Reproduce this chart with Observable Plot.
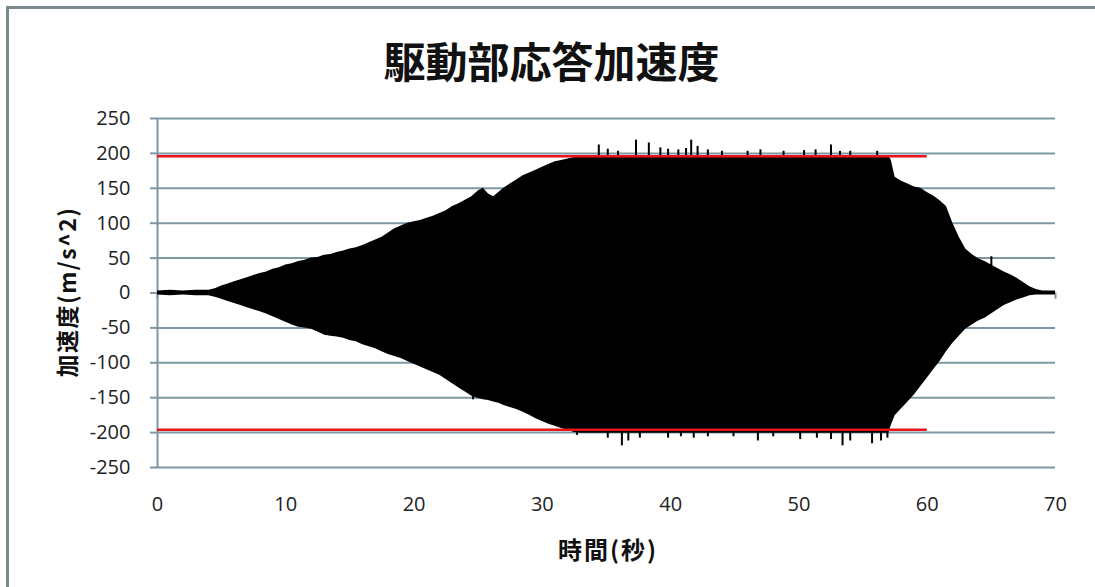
<!DOCTYPE html>
<html>
<head>
<meta charset="utf-8">
<script src="https://cdn.jsdelivr.net/npm/d3@7"></script>
<script src="https://cdn.jsdelivr.net/npm/@observablehq/plot@0.6"></script>
<style>
  html, body { margin: 0; padding: 0; background: #fff; overflow: hidden; }
  #wrap { position: relative; width: 1095px; height: 587px; }
  #frame { position: absolute; left: 6px; top: 6px; width: 1200px; height: 700px;
           border-top: 3px solid #7b898e; border-left: 3px solid #7b898e; box-sizing: border-box; }
  #title { position: absolute; left: 4px; width: 1095px; top: 38px; text-align: center;
           font-family: "Noto Sans CJK JP", sans-serif; font-weight: 700; font-size: 42px;
           line-height: 44px; color: #111; }
  #ylab { position: absolute; left: 66px; top: 292px; transform: translate(-50%, -50%) rotate(-90deg);
          white-space: nowrap; font-family: "Noto Sans CJK JP", sans-serif; font-weight: 700;
          font-size: 23px; letter-spacing: 1.5px; color: #111; }
  #xlab { position: absolute; left: 608px; top: 548px; transform: translate(-50%, -50%);
          white-space: nowrap; font-family: "Noto Sans CJK JP", sans-serif; font-weight: 700;
          font-size: 24px; letter-spacing: 2px; color: #111; }
  #chart { position: absolute; left: 0; top: 0; }
</style>
</head>
<body>
<div id="wrap">
  <div id="chart"></div>
  <div id="frame"></div>
  <div id="title"></div>
  <div id="ylab"></div>
  <div id="xlab"></div>
</div>
<script>
// ---- Text ----
const titleText = "駆動部応答加速度";
const yLabelText = "加速度(m/s^2)";
const xLabelText = "時間(秒)";

// ---- Ticks ----
const xTicks = [0, 10, 20, 30, 40, 50, 60, 70];
const yTicks = [-250, -200, -150, -100, -50, 0, 50, 100, 150, 200, 250];

// ---- Limit lines (red) ----
const limitValues = [196, -196];
const limitStart = 0;
const limitEnd = 60;

// ---- Response envelope (time s, upper / lower m/s^2) ----
const times = [0, 1, 2, 3, 4,
  4.5, 5, 5.5, 6, 6.5, 7, 7.5, 8, 8.5, 9,
  9.5, 10, 10.5, 11, 11.5, 12, 12.5, 13, 13.5, 14,
  14.5, 15, 15.5, 16, 16.5, 17, 17.5, 18, 18.5, 19,
  19.5, 20, 20.5, 21, 21.5, 22, 22.5, 23, 23.5, 24,
  24.5, 25, 25.4, 25.8, 26.2, 26.6,
  27, 27.5, 28, 28.5, 29, 29.5, 30, 30.5, 31, 31.5, 32, 32.5, 33,
  57, 57.2,
  57.5, 58, 58.5, 59, 59.5, 60, 60.5, 61, 61.5, 62, 62.5, 63, 63.5, 64, 64.5, 65, 65.5, 66, 66.5, 67, 67.5, 68, 68.5,
  69, 70];
const upper = [3, 4, 3, 4, 4,
  6, 10, 13, 16, 19, 22, 25, 28, 30, 34,
  36, 40, 42, 45, 47, 50, 51, 54, 55, 58,
  60, 63, 65, 68, 72, 76, 80, 86, 92, 96,
  100, 102, 104, 107, 110, 114, 118, 124, 128, 133,
  138, 146, 150, 142, 138, 144,
  150, 156, 162, 168, 172, 176, 180, 184, 188, 190, 192, 194, 196,
  197, 190,
  166, 160, 156, 152, 150, 144, 139, 132, 124, 100, 80, 63, 55, 49, 45, 40, 35, 30, 26, 21, 15, 9, 5,
  3, 3];
const lower = [-3, -4, -3, -4, -4,
  -6, -9, -12, -15, -18, -21, -24, -27, -30, -34,
  -38, -42, -46, -49, -50, -52, -56, -60, -62, -63,
  -65, -68, -70, -74, -77, -80, -84, -88, -91, -94,
  -98, -102, -106, -110, -114, -118, -124, -130, -136, -142,
  -148, -151, -153, -154, -156, -158,
  -161, -164, -167, -171, -175, -180, -184, -188, -191, -194, -197, -200, -201,
  -201, -190,
  -176, -166, -156, -146, -134, -122, -110, -98, -84, -72, -62, -52, -46, -40, -36, -30, -24, -18, -14, -10, -7, -4, -3,
  -3, -3];

// ---- Individual peaks sticking out of the envelope ----
const spikeTimes = [34.4, 35.1, 35.9, 37.3, 38.3, 39.2, 39.8, 40.6, 41.2, 41.6, 42.1, 42.9, 44.0, 46.0, 47.0, 48.8, 50.4, 51.3, 52.5, 53.2, 54.0, 56.1,
  32.7, 35.1, 36.2, 36.7, 37.6, 39.8, 40.8, 41.8, 42.9, 44.9, 46.8, 48.0, 50.1, 51.4, 52.5, 53.4, 54.0, 55.7, 56.4, 56.9,
  13.1, 24.6, 65.0];
const spikePeaks = [212, 206, 203, 219, 215, 208, 206, 205, 207, 219, 210, 205, 203, 203, 205, 203, 204, 205, 212, 203, 203, 203,
  -204, -208, -219, -212, -208, -208, -206, -208, -206, -206, -212, -206, -210, -208, -210, -219, -212, -216, -212, -208,
  -61, -153, 52];

const envelope = times.map((t, i) => ({t, hi: upper[i], lo: lower[i]}));
const spikes = spikeTimes.map((t, i) => ({t, v: spikePeaks[i]}));

const gridColor = "#7f97a4";

const chart = Plot.plot({
  width: 1095,
  height: 587,
  marginTop: 118,
  marginBottom: 120,
  marginLeft: 157,
  marginRight: 40,
  style: {fontFamily: "'Open Sans', sans-serif", fontSize: "20px", color: "#222", background: "transparent"},
  x: {type: "linear", domain: [0, 70], ticks: xTicks, tickSize: 0, tickPadding: 29, label: null, tickFormat: d => String(d)},
  y: {type: "linear", domain: [-250, 250], ticks: yTicks, tickSize: 7, tickPadding: 20, label: null, tickFormat: d => String(d)},
  marks: [
    Plot.ruleY(yTicks, {stroke: gridColor, strokeWidth: 2}),
    Plot.ruleX([0], {stroke: gridColor, strokeWidth: 2}),
    Plot.ruleX(xTicks, {y1: 0, y2: -9, stroke: gridColor, strokeWidth: 2}),
    Plot.areaY(envelope, {x: "t", y1: "lo", y2: "hi", fill: "#000", curve: "linear"}),
    Plot.ruleX(spikes, {x: "t", y1: 0, y2: "v", stroke: "#000", strokeWidth: 2}),
    Plot.ruleY(limitValues, {x1: limitStart, x2: limitEnd, stroke: "#e8141b", strokeWidth: 2.5})
  ]
});
// colour the y-axis tick marks like the grid
d3.select(chart).selectAll("[aria-label='y-axis tick'] path").attr("stroke", gridColor).attr("stroke-width", 2);
document.getElementById("chart").appendChild(chart);
document.getElementById("title").textContent = titleText;
document.getElementById("ylab").textContent = yLabelText;
document.getElementById("xlab").textContent = xLabelText;
</script>
</body>
</html>
